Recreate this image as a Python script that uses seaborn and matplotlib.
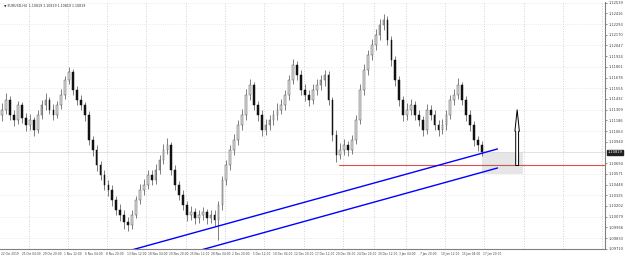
import numpy as np
import pandas as pd
import matplotlib
matplotlib.use("Agg")
import matplotlib.pyplot as plt
import seaborn as sns
from matplotlib.patches import Rectangle, FancyArrow

# ---------------- data (12h candles) ----------------
closes = [1.1131, 1.1142, 1.1125, 1.1119, 1.1136, 1.1121, 1.1113, 1.1119, 1.1108, 1.1125,
          1.1136, 1.1142, 1.1131, 1.1125, 1.1136, 1.1148, 1.1165, 1.1174, 1.1154, 1.1142,
          1.1136, 1.1125, 1.1096, 1.1085, 1.1067, 1.1056, 1.1044, 1.1039, 1.1027, 1.1016,
          1.1010, 1.1002, 1.0998, 1.1010, 1.1027, 1.1039, 1.1044, 1.1056, 1.1050, 1.1062,
          1.1073, 1.1085, 1.1090, 1.1062, 1.1044, 1.1033, 1.1021, 1.1010, 1.1013, 1.1006,
          1.1010, 1.1013, 1.1006, 1.1010, 1.1004, 1.1021, 1.1050, 1.1067, 1.1085, 1.1096,
          1.1113, 1.1125, 1.1148, 1.1159, 1.1136, 1.1125, 1.1108, 1.1113, 1.1119, 1.1125,
          1.1131, 1.1136, 1.1148, 1.1165, 1.1182, 1.1171, 1.1154, 1.1148, 1.1142, 1.1154,
          1.1159, 1.1165, 1.1171, 1.1142, 1.1102, 1.1079, 1.1085, 1.1090, 1.1085, 1.1096,
          1.1119, 1.1154, 1.1177, 1.1194, 1.1205, 1.1217, 1.1228, 1.1234, 1.1211, 1.1188,
          1.1165, 1.1142, 1.1125, 1.1131, 1.1136, 1.1125, 1.1119, 1.1108, 1.1131, 1.1125,
          1.1113, 1.1108, 1.1113, 1.1125, 1.1142, 1.1148, 1.1159, 1.1142, 1.1125, 1.1113,
          1.1096, 1.1090, 1.1082]
highs = [1.1138, 1.1150, 1.1147, 1.1131, 1.1141, 1.1140, 1.1127, 1.1126, 1.1123, 1.1130,
         1.1142, 1.1150, 1.1146, 1.1137, 1.1141, 1.1155, 1.1170, 1.1180, 1.1178, 1.1158,
         1.1148, 1.1140, 1.1129, 1.1101, 1.1090, 1.1072, 1.1061, 1.1050, 1.1044, 1.1032,
         1.1022, 1.1015, 1.1008, 1.1015, 1.1032, 1.1045, 1.1051, 1.1062, 1.1061, 1.1068,
         1.1079, 1.1091, 1.1098, 1.1094, 1.1067, 1.1049, 1.1038, 1.1026, 1.1020, 1.1018,
         1.1016, 1.1019, 1.1017, 1.1015, 1.1016, 1.1026, 1.1055, 1.1073, 1.1090, 1.1103,
         1.1119, 1.1132, 1.1155, 1.1166, 1.1163, 1.1141, 1.1130, 1.1120, 1.1125, 1.1131,
         1.1138, 1.1143, 1.1154, 1.1171, 1.1189, 1.1187, 1.1176, 1.1160, 1.1153, 1.1160,
         1.1166, 1.1171, 1.1176, 1.1175, 1.1146, 1.1107, 1.1092, 1.1097, 1.1095, 1.1102,
         1.1125, 1.1160, 1.1183, 1.1200, 1.1212, 1.1224, 1.1235, 1.1241, 1.1239, 1.1216,
         1.1193, 1.1170, 1.1147, 1.1138, 1.1143, 1.1141, 1.1130, 1.1124, 1.1137, 1.1136,
         1.1130, 1.1119, 1.1120, 1.1131, 1.1148, 1.1155, 1.1167, 1.1163, 1.1147, 1.1130,
         1.1118, 1.1101, 1.1095]
lows = [1.1118, 1.1126, 1.1119, 1.1112, 1.1114, 1.1116, 1.1106, 1.1108, 1.1101, 1.1104,
        1.1120, 1.1131, 1.1126, 1.1119, 1.1121, 1.1132, 1.1143, 1.1160, 1.1148, 1.1136,
        1.1130, 1.1118, 1.1090, 1.1078, 1.1060, 1.1050, 1.1038, 1.1032, 1.1020, 1.1010,
        1.1003, 1.0994, 1.0991, 1.0994, 1.1006, 1.1022, 1.1033, 1.1040, 1.1044, 1.1045,
        1.1057, 1.1068, 1.1080, 1.1056, 1.1038, 1.1027, 1.1015, 1.1003, 1.1004, 1.0999,
        1.1001, 1.1004, 1.0999, 1.1000, 1.0997, 1.0981, 1.1016, 1.1044, 1.1061, 1.1079,
        1.1090, 1.1107, 1.1119, 1.1142, 1.1130, 1.1118, 1.1101, 1.1102, 1.1107, 1.1113,
        1.1119, 1.1126, 1.1130, 1.1142, 1.1160, 1.1165, 1.1148, 1.1141, 1.1135, 1.1137,
        1.1148, 1.1153, 1.1158, 1.1136, 1.1095, 1.1071, 1.1074, 1.1079, 1.1078, 1.1080,
        1.1091, 1.1114, 1.1148, 1.1171, 1.1188, 1.1199, 1.1211, 1.1222, 1.1205, 1.1181,
        1.1158, 1.1135, 1.1118, 1.1119, 1.1125, 1.1119, 1.1112, 1.1101, 1.1103, 1.1119,
        1.1107, 1.1101, 1.1103, 1.1108, 1.1120, 1.1136, 1.1143, 1.1136, 1.1118, 1.1106,
        1.1089, 1.1083, 1.1078]
first_open = 1.1125

date_labels = ["22 Oct 2019", "25 Oct 04:00", "29 Oct 20:00", "1 Nov 12:00", "6 Nov 04:00",
               "8 Nov 20:00", "13 Nov 12:00", "18 Nov 04:00", "20 Nov 20:00", "25 Nov 12:00",
               "28 Nov 04:00", "2 Dec 20:00", "5 Dec 12:00", "10 Dec 04:00", "12 Dec 20:00",
               "17 Dec 12:00", "20 Dec 04:00", "24 Dec 20:00", "30 Dec 12:00", "3 Jan 04:00",
               "7 Jan 20:00", "10 Jan 12:00", "15 Jan 04:00", "17 Jan 20:00"]
date_label_bars = [0, 16, 32, 48, 64, 80, 96, 112, 128, 144, 160, 176, 192, 208, 224,
                   240, 256, 272, 288, 304, 320, 336, 352, 368]
week_start_bars = [21, 51, 81, 111, 141, 171, 201, 231, 261, 285, 309, 339, 369, 399, 429, 459]

price_ticks = [1.09710, 1.09833, 1.09956, 1.10079, 1.10202, 1.10325, 1.10448, 1.10571,
               1.10694, 1.10817, 1.10940, 1.11063, 1.11186, 1.11309, 1.11432, 1.11555,
               1.11678, 1.11801, 1.11924, 1.12047, 1.12170, 1.12293, 1.12416, 1.12539]
last_price = 1.10819

trend_upper_bars = [97, 379]
trend_upper_prices = [1.09684, 1.10857]
trend_lower_bars = [150, 379]
trend_lower_prices = [1.09684, 1.10638]

level_start_bar = 258
level_price = 1.10667
zone_bars = [367, 398.5]
zone_prices = [1.10569, 1.10822]
zone_mid_price = 1.10684
arrow_bar = 394
arrow_prices = [1.10667, 1.11310]

bars_per_candle = 3

# ---------------- figure ----------------
sns.set_theme(style="white")
plt.rcParams['font.family'] = ['DejaVu Sans']

W, H = 625, 258
fig = plt.figure(figsize=(W / 100, H / 100), dpi=100)
fig.patch.set_facecolor("white")
ax = fig.add_axes([0, 1 - 249 / H, 605 / W, 247 / H])
ax.set_facecolor("white")

px_per_bar = 1.31
ax.set_xlim(-1 / px_per_bar, (605 - 1) / px_per_bar)
ax.set_ylim(1.097065, 1.12547)

# grid
for b in week_start_bars:
    ax.axvline(b, color="#c4c4c4", lw=0.6, ls=(0, (1, 2)), zorder=0)
for p in price_ticks[1::2]:
    ax.axhline(p, color="#d8d8d8", lw=0.5, ls=(0, (1, 2)), zorder=0)

# candles
n = len(closes)
xc = np.arange(n) * bars_per_candle + 1
opens = np.array([first_open] + closes[:-1])
cl = np.array(closes)
ax.vlines(xc, lows, highs, color="#6a6a6a", lw=0.6, zorder=2)
bull = cl >= opens
ax.bar(xc[bull], (cl - opens)[bull], bottom=opens[bull], width=1.3,
       color="#dcdcdc", edgecolor="#5a5a5a", lw=0.35, zorder=3)
ax.bar(xc[~bull], (opens - cl)[~bull], bottom=cl[~bull], width=1.3,
       color="#111111", edgecolor="#111111", lw=0.35, zorder=3)

# zone rectangle
ax.add_patch(Rectangle((zone_bars[0], zone_prices[0]), zone_bars[1] - zone_bars[0],
                       zone_prices[1] - zone_prices[0], facecolor="#e6e6e6",
                       edgecolor="none", zorder=1))
ax.plot(zone_bars, [zone_mid_price, zone_mid_price], color="#bfeeee", lw=0.6, zorder=1)

# last price line
ax.axhline(last_price, color="#d8d8e8", lw=0.5, zorder=1)

# horizontal level
ax.plot([level_start_bar, 470], [level_price, level_price], color="#e05050", lw=0.8, zorder=4)

# trend lines
tl = pd.DataFrame({"bar": trend_upper_bars + trend_lower_bars,
                   "price": trend_upper_prices + trend_lower_prices,
                   "line": ["up", "up", "low", "low"]})
sns.lineplot(data=tl, x="bar", y="price", units="line", estimator=None,
             color="#0000ff", lw=1.0, ax=ax, zorder=5, legend=False)

# arrow
ax.add_patch(FancyArrow(arrow_bar, arrow_prices[0], 0, arrow_prices[1] - arrow_prices[0],
                        width=2.2, head_width=3.4, head_length=0.0025,
                        length_includes_head=True, facecolor="white",
                        edgecolor="black", lw=0.7, zorder=6))

# axes styling
for s in ["top", "left"]:
    ax.spines[s].set_visible(False)
ax.spines["right"].set_color("#808080")
ax.spines["bottom"].set_color("#808080")
ax.spines["right"].set_linewidth(0.8)
ax.spines["bottom"].set_linewidth(0.8)

ax.yaxis.tick_right()
shown = [p for p in price_ticks if abs(p - last_price) > 0.0003]
ax.set_yticks(shown)
ax.set_yticklabels([f"{p:.5f}" for p in shown], fontsize=2.6)
ax.tick_params(axis="y", length=1.5, width=0.5, pad=1.0, colors="#606060")
ax.set_xticks(date_label_bars)
ax.set_xticklabels(date_labels, fontsize=2.1, ha="left")
ax.tick_params(axis="x", length=1.5, width=0.5, pad=0.8, colors="#606060")
for lab in ax.get_yticklabels() + ax.get_xticklabels():
    lab.set_color("#404040")
ax.set_xlabel("")
ax.set_ylabel("")

# current price box
ax.annotate(f"{last_price:.5f}", xy=(1.0, last_price), xycoords=("axes fraction", "data"),
            xytext=(1.8, 0), textcoords="offset points", fontsize=2.6, color="white",
            va="center", ha="left",
            bbox=dict(boxstyle="square,pad=0.15", fc="#202020", ec="#202020"))

# title
fig.text(4 / W, 1 - 6 / H, "\u25bc EURUSD,H4  1.10819 1.10819 1.10819 1.10819",
         fontsize=2.3, color="#303030", va="center", ha="left")

fig.savefig("out.png", dpi=100, facecolor="white")
